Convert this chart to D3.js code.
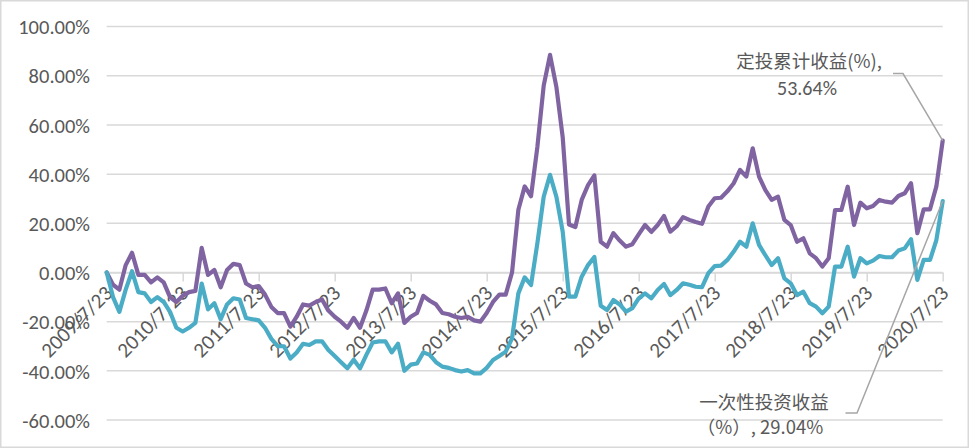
<!DOCTYPE html>
<html>
<head>
<meta charset="utf-8">
<script src="https://cdn.jsdelivr.net/npm/d3@7"></script>
<style>
  html, body { margin: 0; padding: 0; background: #fff; }
  svg { display: block; }
</style>
</head>
<body>
<svg id="chart" width="969" height="448"></svg>
<script>
// ---- Data ----
const yTickValues = [-60, -40, -20, 0, 20, 40, 60, 80, 100];
const xTickLabels = ["2009/7/23","2010/7/23","2011/7/23","2012/7/23","2013/7/23","2014/7/23","2015/7/23","2016/7/23","2017/7/23","2018/7/23","2019/7/23","2020/7/23"];

// monthly categories 2009/7/23 ... 2020/7/23
const categories = [];
for (let y = 2009, m = 7; y < 2020 || (y === 2020 && m <= 7); ) {
  categories.push(y + "/" + m + "/23");
  m++; if (m > 12) { m = 1; y++; }
}

const seriesNames = ["定投累计收益(%)", "一次性投资收益（%）"];

const sipReturn = [
  0, -5, -7, 3, 8, -1, -1, -4, -2, -4, -10, -12, -9.5, -8, -7.5, 10, -1, 1, -6, 1,
  3.5, 3, -4.5, -6, -5.5, -9, -14, -16.5, -16.5, -22, -18, -13, -13.5, -12, -11, -15.5, -18, -20, -22.5, -18.5,
  -22.5, -15.5, -7, -7, -6.5, -12.5, -8.5, -20.5, -18, -16.5, -9.5, -11.5, -13, -16.5, -17, -18, -18.5, -18, -19.5, -20,
  -16.5, -12, -9, -9, 0, 25.5, 35, 31, 51, 76, 88.5, 75.5, 55, 19.5, 18.5, 29.5, 35.5, 39.5, 12.5, 10.5,
  16, 13, 10.5, 11.5, 15.5, 19.3, 16.5, 19.3, 23, 16.6, 18.8, 22.5, 21.4, 20.5, 19.8, 26.8, 30.2, 30.4, 33, 36.3,
  41.7, 39, 50.5, 39, 33.5, 29.5, 30.8, 21.4, 19.3, 12.5, 13.9, 7.8, 5.8, 2.4, 5.8, 25.4, 25.4, 34.9, 19.3, 28.4,
  26.1, 27, 29.5, 28.8, 28.4, 31.1, 32.2, 36.3, 16, 25.7, 25.7, 35, 53.64
];

const lumpReturn = [
  0, -10, -16, -7, 0.5, -8, -8.5, -12, -10, -12, -16, -22.5, -24, -22.5, -20.5, -4.5, -15, -12.5, -19, -13,
  -10.5, -11, -18.5, -19, -19.5, -22.5, -27, -30, -30, -35, -32.5, -29, -29.5, -28, -28, -31.5, -34, -36.5, -39, -35.5,
  -39, -33.5, -28.5, -28, -28, -32.5, -29, -40, -37.5, -37, -32.5, -33.5, -36.5, -38.3, -38.8, -39.7, -40.3, -39.7, -41, -41,
  -38.8, -35.6, -34, -32.2, -26.8, -8.5, -2, -5.1, 11.9, 30.8, 39.7, 30.8, 16.6, -9.8, -9.8, -1.7, 3, 6.3, -13.5, -15.3,
  -11.2, -13, -15.9, -14.5, -10.5, -8.5, -10.5, -7.1, -4.7, -9.2, -7.1, -4.4, -5, -5.8, -6, -0.3, 2.6, 2.8, 5.1, 8.5,
  12.5, 10.5, 20, 11.2, 7, 3, 5.8, -2.4, -4.4, -9.2, -7.8, -12.5, -13.9, -16.6, -13.9, 2.4, 2.4, 10.5, -1.7, 5.8,
  3.7, 4.8, 6.7, 6.2, 6.2, 8.9, 9.8, 13.5, -3, 5.1, 5.1, 13.2, 29.04
];

// ---- Layout ----
const W = 969, H = 448;
const plotLeft = 106.7, plotRight = 942.7, plotTop = 26.6, plotBottom = 420;
const svg = d3.select("#chart");
const fontFamily = "Calibri, Carlito, 'Liberation Sans', Arial, sans-serif";
const cjkFont = "'Noto Sans CJK SC', 'Microsoft YaHei', sans-serif";
const textColor = "#595959";
const gridColor = "#d9d9d9";
const colors = ["#8064A2", "#4BACC6"];

// border
svg.append("rect").attr("x", 0.75).attr("y", 0.75).attr("width", W - 1.5).attr("height", H - 1.5)
  .attr("fill", "#fff").attr("stroke", gridColor).attr("stroke-width", 1.5);

const x = d3.scalePoint().domain(categories).range([plotLeft, plotRight]);
const y = d3.scaleLinear().domain([-60, 100]).range([plotBottom, plotTop]);

// gridlines
svg.append("g").selectAll("line").data(yTickValues).join("line")
  .attr("x1", plotLeft).attr("x2", plotRight)
  .attr("y1", d => y(d)).attr("y2", d => y(d))
  .attr("stroke", gridColor).attr("stroke-width", 1.5);

// y axis labels
const yAxis = d3.axisLeft(y).tickValues(yTickValues).tickSize(0).tickPadding(0)
  .tickFormat(d => d.toFixed(2) + "%");
const gy = svg.append("g").attr("transform", `translate(90,0)`).call(yAxis);
gy.select(".domain").remove();
gy.selectAll("text").attr("font-family", fontFamily).attr("font-size", 20.5).attr("fill", textColor)
  .attr("dy", "0.35em");

// x axis: ticks at the yearly categories
const yearCats = categories.filter(c => xTickLabels.includes(c));
const xAxis = d3.axisBottom(x).tickValues(yearCats).tickSize(9).tickSizeOuter(0).tickFormat("");
const gx = svg.append("g").attr("transform", `translate(0,${y(0)})`).call(xAxis);
gx.select(".domain").attr("stroke", gridColor).attr("stroke-width", 1.5);
gx.selectAll(".tick line").attr("stroke", gridColor).attr("stroke-width", 1.5);

// rotated x labels
svg.append("g").selectAll("text").data(xTickLabels).join("text")
  .attr("transform", d => `translate(${x(d) + 7},${y(0) + 22}) rotate(-45)`)
  .attr("text-anchor", "end")
  .attr("font-family", fontFamily).attr("font-size", 21).attr("fill", textColor)
  .text(d => d);

// lines
const seriesData = [sipReturn, lumpReturn];
const line = d3.line().x((d, i) => x(categories[i])).y(d => y(d));
svg.append("g").selectAll("path").data(seriesData).join("path")
  .attr("d", d => line(d))
  .attr("fill", "none")
  .attr("stroke", (d, i) => colors[i])
  .attr("stroke-width", 4.2)
  .attr("stroke-linejoin", "round")
  .attr("stroke-linecap", "round");

// data labels with leader lines
const lastCat = categories[categories.length - 1];
const sipLast = sipReturn[sipReturn.length - 1];
const lumpLast = lumpReturn[lumpReturn.length - 1];
const leaderColor = "#a6a6a6";

svg.append("polyline")
  .attr("points", `893,73.5 903,73.5 ${x(lastCat)},${y(sipLast)}`)
  .attr("fill", "none").attr("stroke", leaderColor).attr("stroke-width", 1.5);
svg.append("polyline")
  .attr("points", `845.5,413 857,413 ${x(lastCat)},${y(lumpLast)}`)
  .attr("fill", "none").attr("stroke", leaderColor).attr("stroke-width", 1.5);

const lbl1 = svg.append("text").attr("font-size", 18.5).attr("fill", textColor).attr("text-anchor", "middle");
lbl1.append("tspan").attr("x", 809).attr("y", 68).attr("font-family", cjkFont).text(seriesNames[0] + ",");
lbl1.append("tspan").attr("x", 807).attr("y", 95).attr("font-family", fontFamily).attr("font-size", 20).text(sipLast.toFixed(2) + "%");

const lbl2 = svg.append("text").attr("font-size", 18.5).attr("fill", textColor).attr("text-anchor", "middle");
lbl2.append("tspan").attr("x", 764).attr("y", 409).attr("font-family", cjkFont).text("一次性投资收益");
lbl2.append("tspan").attr("x", 760).attr("y", 434).attr("font-family", cjkFont).text("（%）, " + lumpLast.toFixed(2) + "%");
</script>
</body>
</html>
